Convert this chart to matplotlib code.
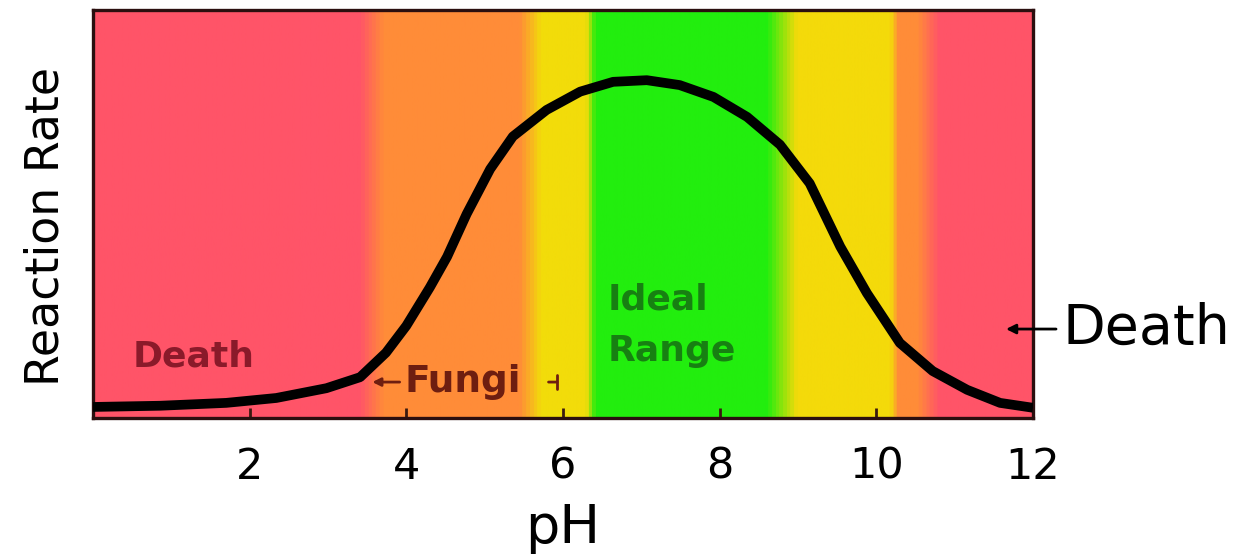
import numpy as np
import matplotlib
matplotlib.use("Agg")
import matplotlib.pyplot as plt
from matplotlib.colors import LinearSegmentedColormap

# Data
ph = [0, 0.86, 1.7, 2.34, 2.98, 3.41, 3.74, 4.0, 4.3, 4.52, 4.77, 5.07, 5.36,
      5.79, 6.22, 6.64, 7.07, 7.49, 7.92, 8.35, 8.77, 9.15, 9.54, 9.88,
      10.3, 10.72, 11.16, 11.58, 12]
rate = [0.027, 0.03, 0.037, 0.049, 0.073, 0.10, 0.16, 0.226, 0.32, 0.395,
        0.50, 0.61, 0.69, 0.755, 0.80, 0.824, 0.828, 0.816, 0.787, 0.738,
        0.670, 0.575, 0.42, 0.306, 0.184, 0.115, 0.069, 0.037, 0.025]

# background zones (pH position, colour)
zone_ph = [0, 3.4, 3.7, 5.45, 5.72, 6.3, 6.42, 8.62, 9.0, 10.2, 10.3, 10.55, 10.82, 12]
zone_col = ["#FF5468", "#FF5468", "#FF8C38", "#FF8C38", "#F2DC0A", "#F2DC0A",
            "#22EE0E", "#22EE0E", "#F4DA0A", "#F4DA0A", "#FF8C38", "#FF8C38",
            "#FF5468", "#FF5468"]

xticks = [2, 4, 6, 8, 10, 12]

fig = plt.figure(figsize=(12.42, 5.57), dpi=100)
ax = fig.add_axes([0.0749, 0.2496, 0.7568, 0.7324])

cmap = LinearSegmentedColormap.from_list(
    "ph", list(zip(np.array(zone_ph) / 12.0, zone_col)))
ax.imshow(np.linspace(0, 1, 1200).reshape(1, -1), cmap=cmap, aspect="auto",
          extent=[0, 12, 0, 1], zorder=0)

ax.plot(ph, rate, color="black", lw=7, solid_capstyle="butt",
        solid_joinstyle="round", zorder=3)

ax.set_xlim(0, 12)
ax.set_ylim(0, 1)
ax.set_xticks(xticks)
ax.set_xticklabels([str(t) for t in xticks], fontsize=31)
ax.tick_params(axis="x", direction="in", length=7, width=2, color="#3a1a10", pad=20)
ax.set_yticks([])
for s in ax.spines.values():
    s.set_color("#2B0F0F")
    s.set_linewidth(2.4)

ax.set_xlabel("pH", fontsize=39, labelpad=10)
ax.set_ylabel("Reaction Rate", fontsize=33)
ax.yaxis.set_label_coords(-0.026, 0.47)

# zone labels
ax.text(0.5, 0.15, "Death", fontsize=26, fontweight="bold", color="#8A1A2A",
        va="center", ha="left")
ax.text(6.57, 0.29, "Ideal", fontsize=26, fontweight="bold", color="#178012",
        va="center", ha="left")
ax.text(6.57, 0.165, "Range", fontsize=26, fontweight="bold", color="#178012",
        va="center", ha="left")
ax.text(3.98, 0.088, "Fungi", fontsize=27, fontweight="bold", color="#6E1E10",
        va="center", ha="left")
ax.annotate("", xy=(3.53, 0.088), xytext=(3.95, 0.088),
            arrowprops=dict(arrowstyle="-|>", color="#6E1E10", lw=2, mutation_scale=12))
ax.annotate("", xy=(5.96, 0.088), xytext=(5.78, 0.088),
            arrowprops=dict(arrowstyle="-[, widthB=0.5, lengthB=0",
                            color="#6E1E10", lw=2))

# outside label
ax.annotate("", xy=(11.62, 0.218), xytext=(12.33, 0.218),
            arrowprops=dict(arrowstyle="-|>", color="black", lw=2, mutation_scale=14),
            annotation_clip=False)
ax.text(12.38, 0.218, "Death", fontsize=40, color="black", va="center",
        ha="left", clip_on=False)

fig.savefig("out.png", dpi=100)
